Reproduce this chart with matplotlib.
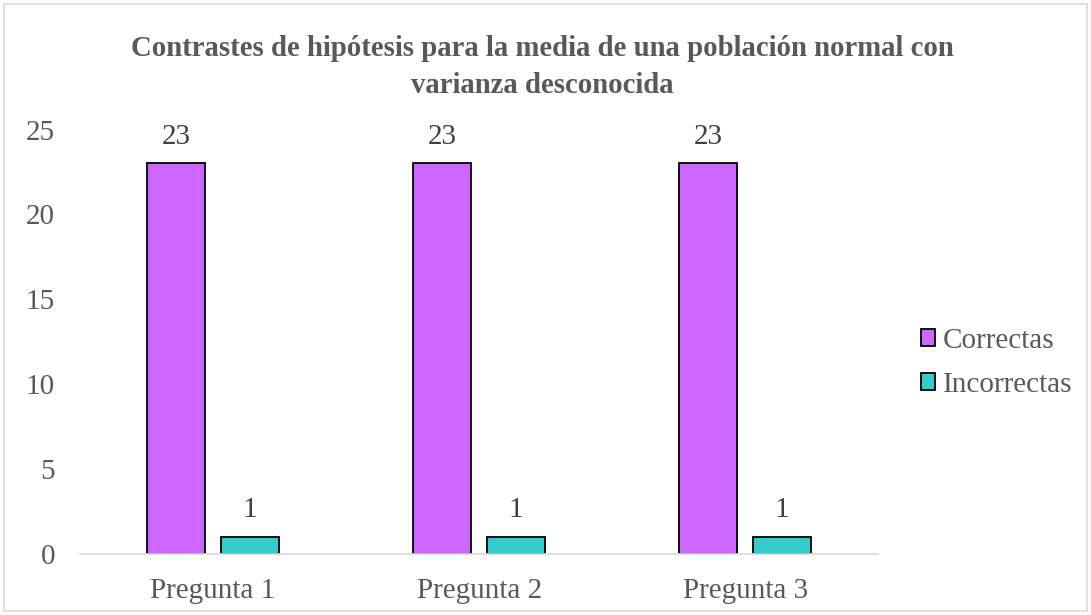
import matplotlib
matplotlib.use("Agg")
import matplotlib.pyplot as plt
from matplotlib.patches import Rectangle, Patch
import numpy as np

plt.rcParams['font.family'] = ['Liberation Serif', 'DejaVu Serif']

categories = ["Pregunta 1", "Pregunta 2", "Pregunta 3"]
correctas = [23, 23, 23]
incorrectas = [1, 1, 1]
series_names = ["Correctas", "Incorrectas"]
title = "Contrastes de hipótesis para la media de una población normal con\nvarianza desconocida"

purple = "#CC66FF"
teal = "#33CCCC"
grey_text = "#595959"
label_text = "#404040"

fig = plt.figure(figsize=(10.91, 6.15), dpi=100)
ax = fig.add_axes([0.0733, 0.0992, 0.7317, 0.6902])

x = np.arange(len(categories))
w = 0.22
off = 0.139
b1 = ax.bar(x - off, correctas, w, color=purple, edgecolor="black", linewidth=1.3, label=series_names[0])
b2 = ax.bar(x + off, incorrectas, w, color=teal, edgecolor="black", linewidth=1.3, label=series_names[1])

for bars in (b1, b2):
    ax.bar_label(bars, labels=[str(v) for v in bars.datavalues], padding=10,
                 fontsize=21, color=label_text)

ax.set_xlim(-0.5, len(categories) - 0.5)
ax.set_ylim(0, 25)
ax.set_yticks([0, 5, 10, 15, 20, 25])
ax.set_xticks(x)
ax.set_xticklabels(categories)
ax.tick_params(axis='both', length=0, labelsize=21, colors=grey_text)
ax.tick_params(axis='y', pad=18)
ax.tick_params(axis='x', pad=17)
for s in ("top", "right", "left"):
    ax.spines[s].set_visible(False)
ax.spines["bottom"].set_color("#D9D9D9")
ax.spines["bottom"].set_linewidth(1.2)

fig.text(0.497, 0.891, title, ha="center", va="center", fontsize=20.7,
         fontweight="bold", color=grey_text, linespacing=1.45)

handles = [Patch(facecolor=purple, edgecolor="black", linewidth=1.3),
           Patch(facecolor=teal, edgecolor="black", linewidth=1.3)]
fig.legend(handles, series_names, loc="center left", bbox_to_anchor=(0.82, 0.41),
           frameon=False, fontsize=21, labelcolor=grey_text,
           handlelength=0.5, handleheight=0.5, handletextpad=0.25, labelspacing=0.62)

fig.patches.append(Rectangle((0.004, 0.006), 0.992, 0.988, transform=fig.transFigure,
                             fill=False, edgecolor="#D9D9D9", linewidth=1.2))

fig.savefig("out.png", dpi=100, facecolor="white")
